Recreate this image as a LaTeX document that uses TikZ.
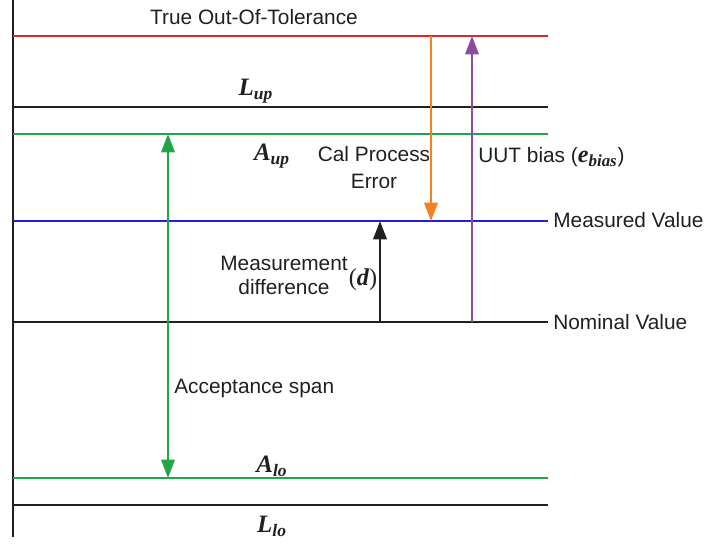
\documentclass[tikz,border=0pt]{standalone}
\usepackage{fontspec}
\setmainfont{Liberation Serif}
\setsansfont{Liberation Sans}
\usetikzlibrary{arrows.meta}
\definecolor{tolred}{RGB}{218,37,45}
\definecolor{accgreen}{RGB}{34,165,70}
\definecolor{measblue}{RGB}{30,30,220}
\definecolor{calorange}{RGB}{245,130,32}
\definecolor{biaspurple}{RGB}{140,75,160}
\definecolor{inkgray}{RGB}{35,31,32}

\begin{document}
\begin{tikzpicture}[x=0.6pt, y=-0.6pt, >={Triangle[length=11pt,width=8pt]},
  lvl/.style={line width=0.8pt},
  span/.style={line width=1.6pt},
  lbl/.style={font=\sffamily\fontsize{12.5}{15.5}\selectfont, text=inkgray, inner sep=0pt},
  sym/.style={font=\rmfamily\bfseries\itshape\fontsize{15}{17}\selectfont, text=inkgray, inner sep=0pt}]
  \useasboundingbox (0,0) rectangle (706,543);
  % level lines, left end and right end
  \coordinate (axis-top) at (13,0);
  \coordinate (axis-bot) at (13,537);
  \coordinate (tol-l) at (13,36);   \coordinate (tol-r) at (548,36);
  \coordinate (lup-l) at (13,107);  \coordinate (lup-r) at (548,107);
  \coordinate (aup-l) at (13,134);  \coordinate (aup-r) at (548,134);
  \coordinate (meas-l) at (13,221); \coordinate (meas-r) at (548,221);
  \coordinate (nom-l) at (13,322);  \coordinate (nom-r) at (548,322);
  \coordinate (alo-l) at (13,478);  \coordinate (alo-r) at (548,478);
  \coordinate (llo-l) at (13,505);  \coordinate (llo-r) at (548,505);
  \draw[lvl, inkgray] (axis-top) -- (axis-bot);
  \draw[lvl, tolred] (tol-l) -- (tol-r);
  \draw[lvl, inkgray] (lup-l) -- (lup-r);
  \draw[lvl, accgreen] (aup-l) -- (aup-r);
  \draw[lvl, measblue] (meas-l) -- (meas-r);
  \draw[lvl, inkgray] (nom-l) -- (nom-r);
  \draw[lvl, accgreen] (alo-l) -- (alo-r);
  \draw[lvl, inkgray] (llo-l) -- (llo-r);
  % arrow ends on the lines
  \coordinate (acc-top) at (168,134); \coordinate (acc-bot) at (168,478);
  \coordinate (cal-top) at (431,36);  \coordinate (cal-bot) at (431,221);
  \coordinate (bias-top) at (472,36); \coordinate (bias-bot) at (472,322);
  \coordinate (diff-top) at (380,221); \coordinate (diff-bot) at (380,322);
  \draw[span, accgreen, <->] (acc-top) -- (acc-bot);
  \draw[span, calorange, ->] (cal-top) -- (cal-bot);
  \draw[span, biaspurple, ->] (bias-bot) -- (bias-top);
  \draw[span, inkgray, ->] (diff-bot) -- (diff-top);
  % labels
  \node[lbl] (tot) at (254,17) {True Out-Of-Tolerance};
  \node[lbl, anchor=west] (measval) at (553,220) {Measured Value};
  \node[lbl, anchor=west] (nomval) at (553,322) {Nominal Value};
  \node[lbl, align=center, font=\sffamily\fontsize{12.5}{16.2}\selectfont] (calerr) at (374,168) {Cal Process\\Error};
  \node[lbl, anchor=west] (uutbias) at (478,157)
    {UUT bias ({\rmfamily\bfseries\itshape\fontsize{14.5}{16}\selectfont e\textsubscript{bias}})};
  \node[lbl, align=center, font=\sffamily\fontsize{12.5}{14.4}\selectfont] (measdiff) at (284,275) {Measurement\\difference};
  \node[lbl, text=inkgray, font=\rmfamily\fontsize{14.5}{16}\selectfont] (dlbl) at (363,280) {(\textbf{\textit{d}})};
  \node[lbl, anchor=west] (accspan) at (174,388) {Acceptance span};
  \node[sym] (lup) at (256,91) {L\textsubscript{up}};
  \node[sym] (aup) at (272,156) {A\textsubscript{up}};
  \node[sym] (alo) at (272,466) {A\textsubscript{lo}};
  \node[sym] (llo) at (272,526) {L\textsubscript{lo}};
\end{tikzpicture}
\end{document}
